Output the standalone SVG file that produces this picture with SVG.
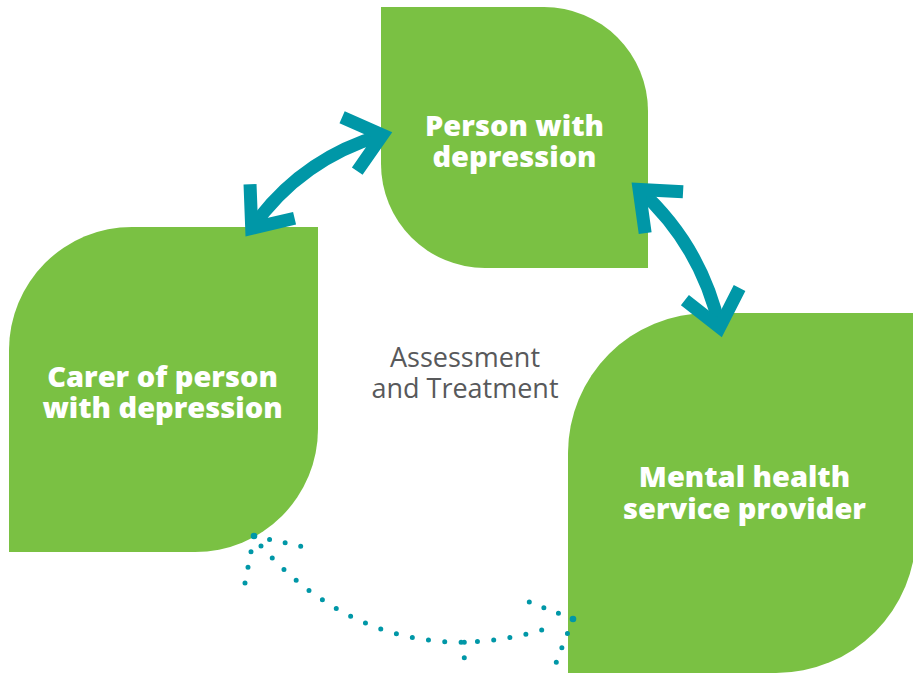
<svg xmlns="http://www.w3.org/2000/svg" width="913" height="675" viewBox="0 0 913 675">
  <style>
    .node { fill: #7AC143; }
    .label { font-family: "Open Sans", "Liberation Sans", sans-serif; font-weight: 800; font-size: 29px; fill: #FFFFFF; text-anchor: middle; }
    .note { font-family: "Open Sans", "Liberation Sans", sans-serif; font-weight: 400; font-size: 27px; fill: #58595B; text-anchor: middle; }
    .flow { fill: none; stroke: #0097A7; stroke-width: 13; stroke-linejoin: miter; stroke-miterlimit: 10; stroke-linecap: butt; }
    .dots { fill: none; stroke: #0097A7; stroke-width: 5; stroke-linecap: round; stroke-dasharray: 0 1; }
    .tip { fill: #0097A7; }
  </style>
  <defs>
    <!-- open chevron head, pointing along +x, vertex at origin -->
    <path id="chevron" d="M-34,-28 L0,0 L-34,28"/>
  </defs>

  <rect width="913" height="675" fill="#FFFFFF"/>

  <g id="node-person">
    <path class="node" d="M381,7 H544 A104,104 0 0 1 648,111 V268 H485 A104,104 0 0 1 381,164 Z"/>
    <text class="label"><tspan x="514.5" y="136">Person with</tspan><tspan x="514.5" y="167">depression</tspan></text>
  </g>

  <g id="node-carer">
    <path class="node" d="M9,552 V350 A123,123 0 0 1 132,227 H318 V429 A123,123 0 0 1 195,552 Z"/>
    <text class="label"><tspan x="162.5" y="387">Carer of person</tspan><tspan x="162.5" y="418">with depression</tspan></text>
  </g>

  <g id="node-provider">
    <path class="node" d="M568,673 V453 A140,140 0 0 1 708,313 H916 V533 A140,140 0 0 1 776,673 Z"/>
    <text class="label"><tspan x="744.5" y="487">Mental health</tspan><tspan x="744.5" y="519">service provider</tspan></text>
  </g>

  <g id="label-assessment">
    <text class="note"><tspan x="465" y="366.5">Assessment</tspan><tspan x="465" y="398">and Treatment</tspan></text>
  </g>

  <g id="connectors">
    <!-- carer <-> person -->
    <path class="flow" d="M251.7,228.3 Q300.7,158.7 382.4,135"/>
    <use href="#chevron" class="flow" transform="translate(382.4,135) rotate(-15.7)"/>
    <use href="#chevron" class="flow" transform="translate(251.7,228.3) rotate(127.3)"/>

    <!-- person <-> provider -->
    <path class="flow" d="M639.1,189.4 Q701.2,245.3 719.6,327.3"/>
    <use href="#chevron" class="flow" transform="translate(639.1,189.4) rotate(-137.4)"/>
    <use href="#chevron" class="flow" transform="translate(719.6,327.3) rotate(77.5)"/>

    <!-- dotted provider <-> carer link -->
    <path class="dots" pathLength="20" d="M261,546 C347.7,642.9 453.3,661 557.3,625"/>
    <path class="dots" pathLength="3" d="M254,536 L245,583"/>
    <path class="dots" pathLength="3" d="M254,536 L300.7,546.3"/>
    <path class="dots" pathLength="3" d="M573,619 L529.3,602"/>
    <path class="dots" pathLength="3" d="M573,619 L556.3,662.3"/>
    <path class="dots" pathLength="2" d="M464.3,642.3 L464.3,673"/>
    <circle class="tip" cx="254" cy="536" r="3.3"/>
    <circle class="tip" cx="573" cy="619" r="3.3"/>
  </g>
</svg>
